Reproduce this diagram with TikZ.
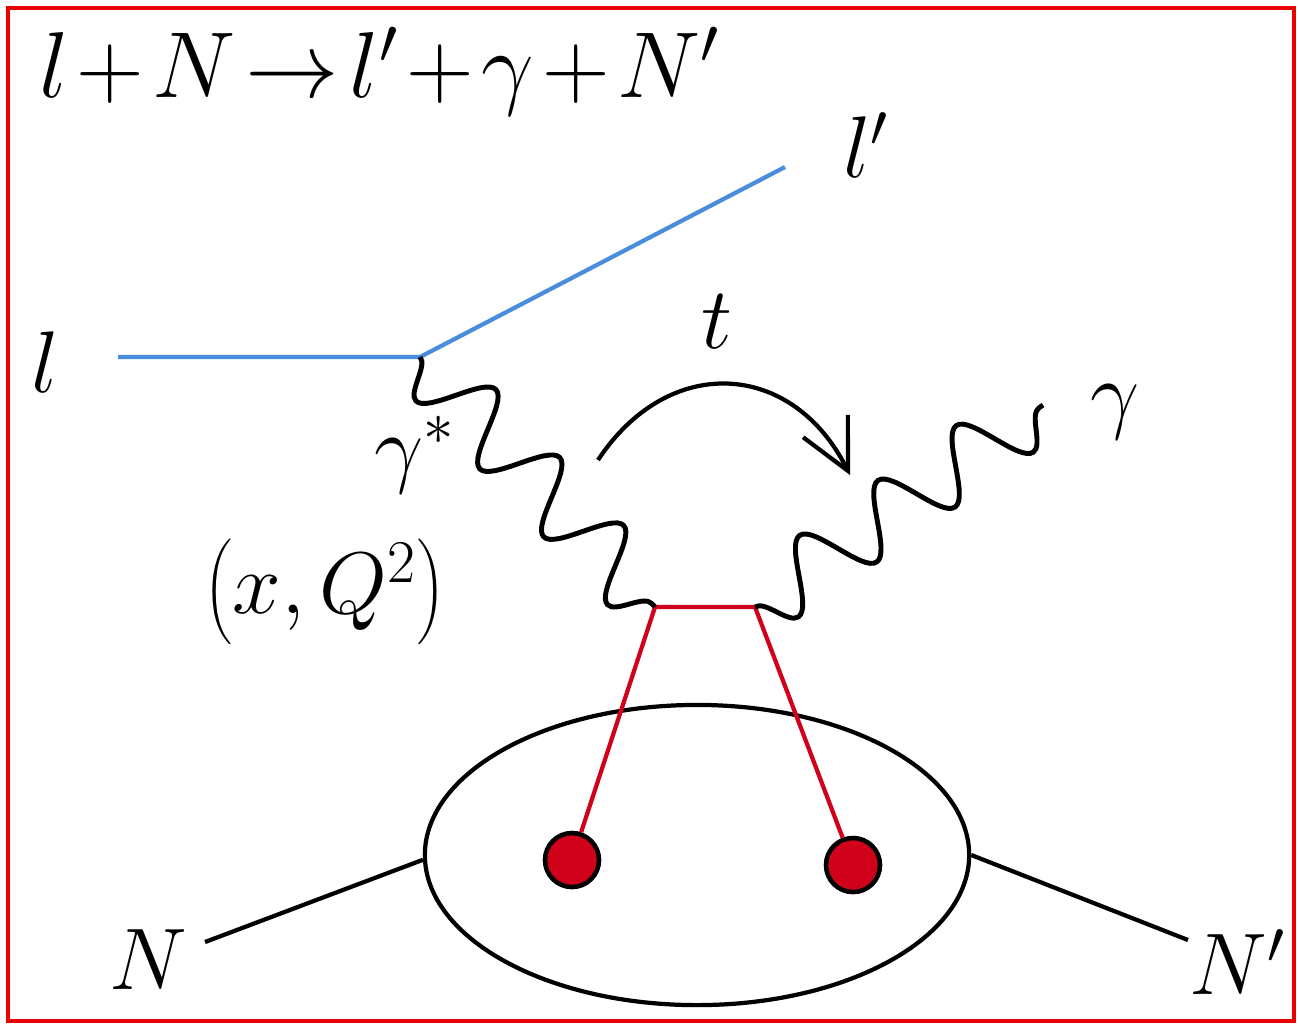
\documentclass[tikz,border=0pt]{standalone}
\usepackage{xcolor}
\usepackage{tikz}
\usetikzlibrary{shapes.geometric, arrows.meta, positioning, decorations.pathmorphing}
\definecolor{leptonblue}{RGB}{74, 141, 220}
\definecolor{gpdred}{RGB}{208, 2, 27}
\definecolor{framered}{RGB}{235, 0, 0}

\tikzset{
    lepton/.style={draw=leptonblue, line width=1.2pt},
    photon/.style={draw, line width=1.4pt, decorate,
        decoration={snake, segment length=#1, amplitude=0.33cm, mirror}},
    parton/.style={draw=gpdred, line width=1.2pt},
    hadron/.style={draw, line width=1.2pt},
    quark/.style={circle, fill=gpdred, draw, line width=1.3pt, minimum size=0.54cm, inner sep=0pt},
    lbl/.style={font=\fontsize{25}{30}\selectfont}
}

\begin{document}
\begin{tikzpicture}[x=0.01cm, y=-0.01cm]
    \useasboundingbox (0,0) rectangle (1298,1026);
    \draw[framered, line width=1.2pt] (8,8) rectangle (1294,1021);

    % reaction
    \node[lbl, scale=1.07] (reac) at (380,72)
        {\medmuskip=1.5mu\thickmuskip=2mu$l+N\rightarrow l'+\gamma+N'$};

    % lepton line
    \coordinate (lin) at (118,357);
    \coordinate (lv) at (420,357);
    \coordinate (lout) at (785,167);
    \draw[lepton] (lin) -- (lv) -- (lout);
    \node[lbl] (lname) at (45,362) {$l$};
    \node[lbl] (lpname) at (866,145) {$l'$};

    % hadron blob
    \node[ellipse, hadron, minimum width=5.44cm, minimum height=3.0cm] (nuc) at (697,855) {};
    \node[quark] (pa) at (572,860) {};
    \node[quark] (pb) at (853,865) {};
    \coordinate (qa) at (655,607);
    \coordinate (qb) at (755,607);
    \draw[parton] (pa) -- (qa) -- (qb) -- (pb);

    % photons
    \draw[photon=0.932cm] (lv) -- (qa);
    \coordinate (gout) at (1043,405);
    \draw[photon=0.956cm] (qb) -- (gout);
    \node[lbl] (gstar) at (415,455) {$\gamma^{*}$};
    \node[lbl] (kin) at (325,592) {$\left(x,Q^{2}\right)$};
    \node[lbl] (gname) at (1115,412) {$\gamma$};

    % momentum transfer
    \coordinate (ta) at (598,460);
    \coordinate (tb) at (850,475);
    \draw[line width=1.2pt, -{Straight Barb[length=5mm, width=5mm]}] (ta) to[bend left=60, looseness=1.3] (tb);
    \node[lbl] (tname) at (717,322) {$t$};

    % nucleon legs
    \coordinate (nin) at (205,942);
    \coordinate (nout) at (1188,940);
    \draw[hadron] (nin) -- (nuc.181);
    \draw[hadron] (nuc.east) -- (nout);
    \node[lbl] (nname) at (148,960) {$N$};
    \node[lbl] (npname) at (1238,962) {$N'$};
\end{tikzpicture}
\end{document}
